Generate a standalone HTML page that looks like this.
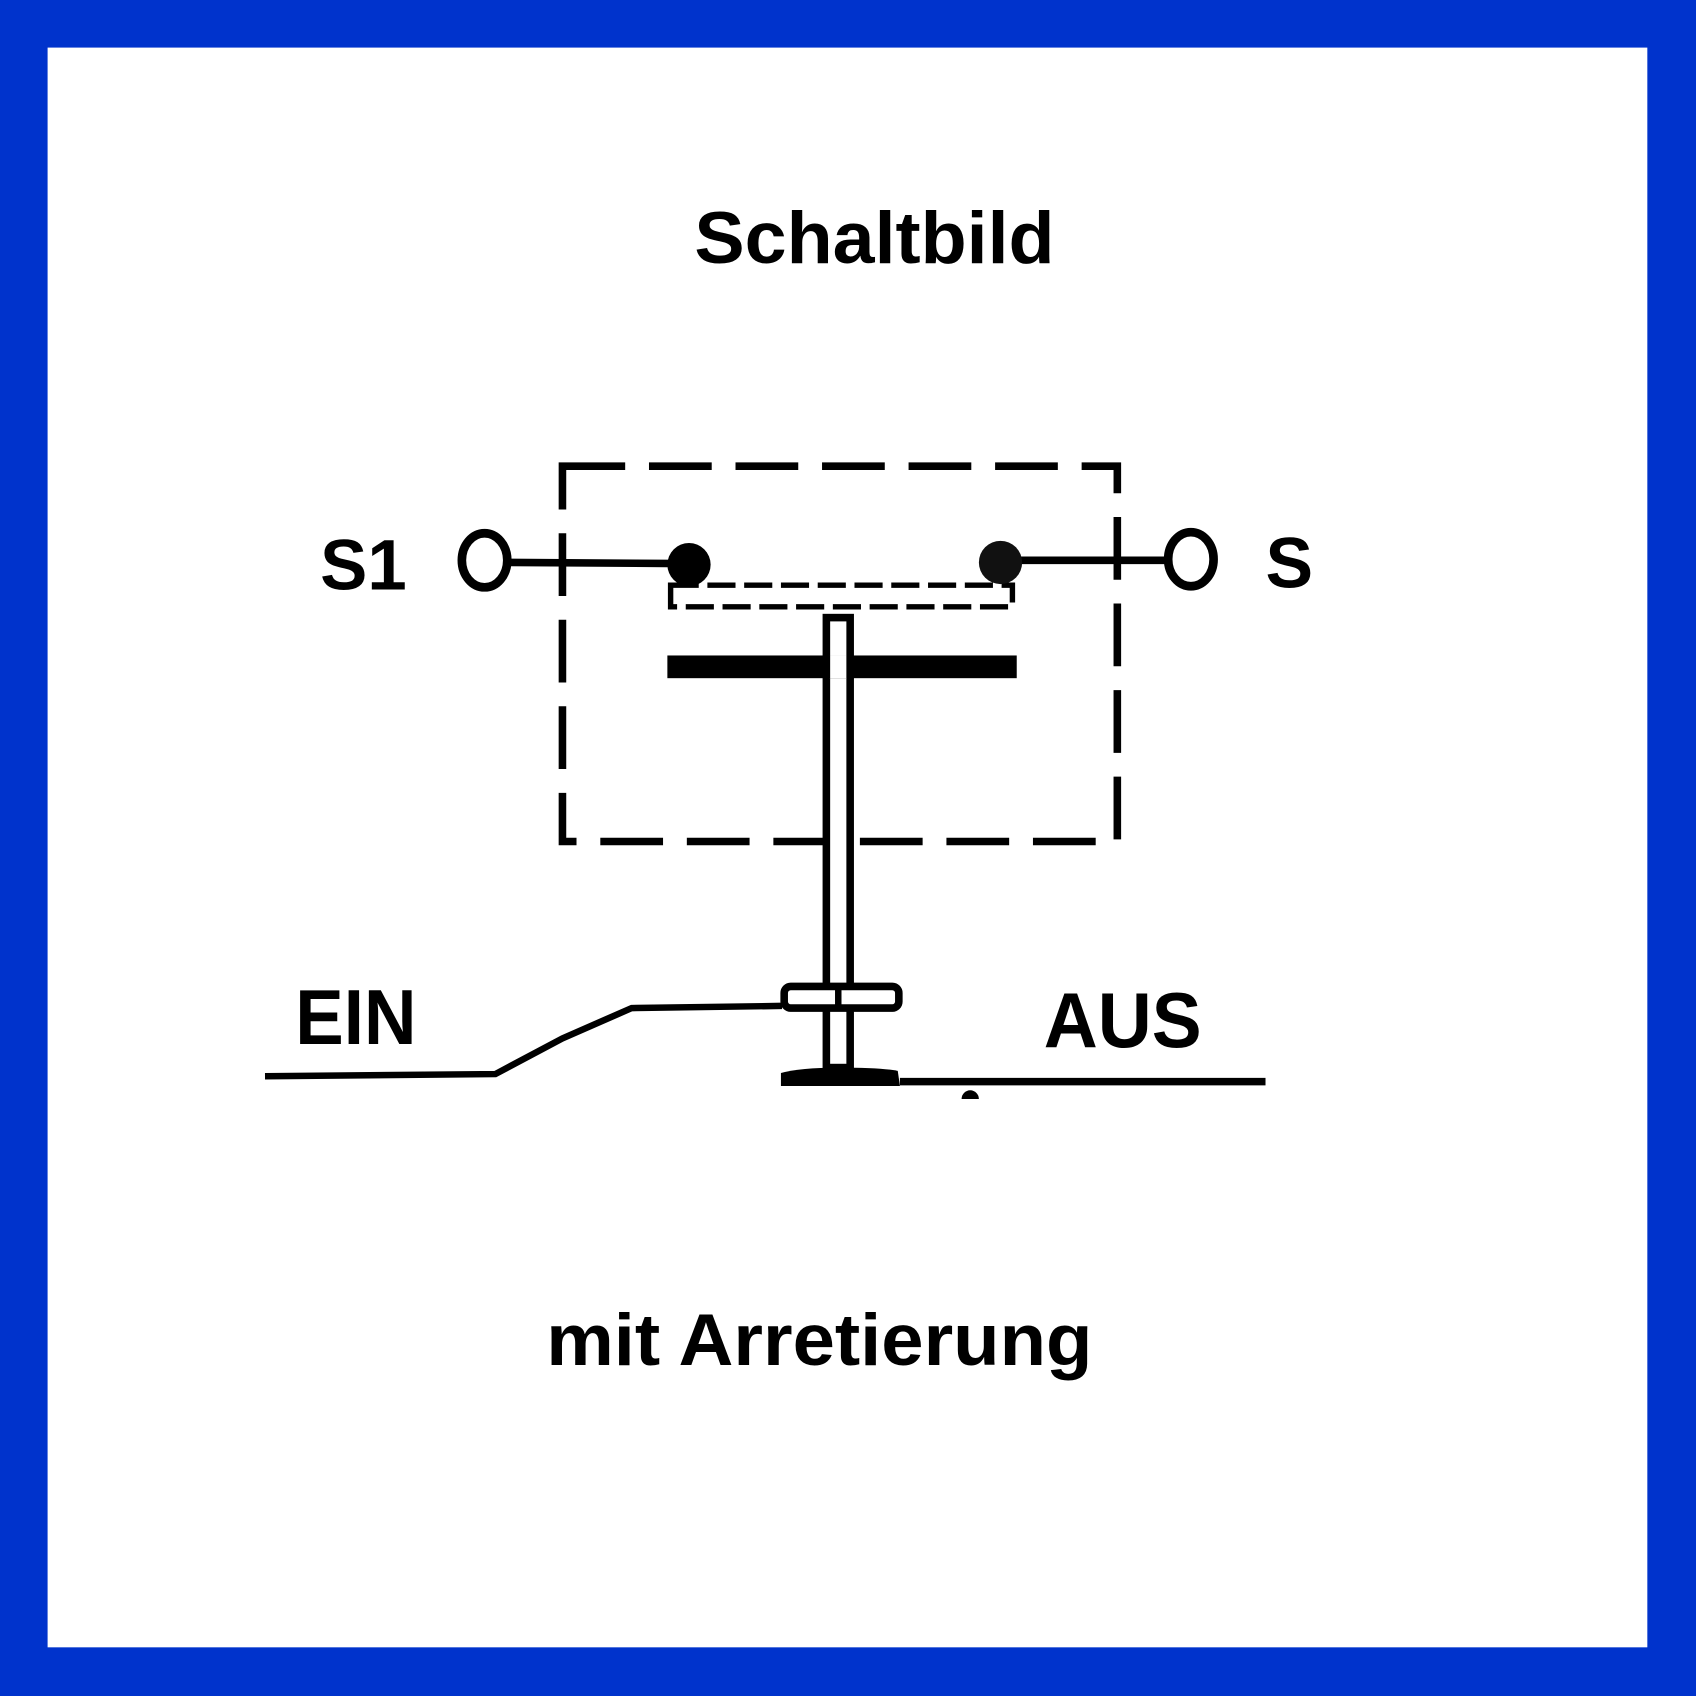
<!DOCTYPE html>
<html><head><style>html,body{margin:0;padding:0;background:#fff}svg{display:block}</style></head>
<body>
<svg width="1696" height="1696" viewBox="0 0 1568 1568" xmlns="http://www.w3.org/2000/svg">
<rect x="0" y="0" width="1568" height="1568" fill="#0033cc"/>
<rect x="44" y="44" width="1479" height="1479" fill="#fff"/>
<g font-family="Liberation Sans, sans-serif" font-weight="bold" fill="#000">
<text x="642" y="243" font-size="68" textLength="333" lengthAdjust="spacingAndGlyphs">Schaltbild</text>
<text x="296" y="545" font-size="66" textLength="80" lengthAdjust="spacingAndGlyphs">S1</text>
<text x="1170" y="543" font-size="66">S</text>
<text x="273" y="965" font-size="72" textLength="112" lengthAdjust="spacingAndGlyphs">EIN</text>
<text x="965" y="968" font-size="72" textLength="146" lengthAdjust="spacingAndGlyphs">AUS</text>
<text x="505" y="1262" font-size="68" textLength="505" lengthAdjust="spacingAndGlyphs">mit Arretierung</text>
</g>
<g stroke="#000" fill="none">
<rect x="520" y="431" width="513" height="347" stroke-width="7" stroke-dasharray="58,22"/>
<ellipse cx="448" cy="518" rx="21" ry="25" stroke-width="8"/>
<ellipse cx="1101" cy="517" rx="21" ry="25" stroke-width="8"/>
<line x1="472" y1="520" x2="630" y2="521" stroke-width="7"/>
<line x1="940" y1="518" x2="1078" y2="518" stroke-width="7"/>
<rect x="620" y="541" width="316" height="20" stroke-width="5" stroke-dasharray="26,8"/>
<rect x="764" y="571" width="22" height="416" stroke-width="7" fill="#fff"/>
<polyline points="245,995 458,993 520,960 584,932 723,930" stroke-width="6"/>
<line x1="832" y1="1000" x2="1170" y2="1000" stroke-width="7"/>
</g>
<rect x="617" y="606" width="323" height="21" fill="#000"/>
<rect x="767" y="606" width="16" height="21" fill="#fff"/>
<line x1="764" y1="606" x2="764" y2="627" stroke="#000" stroke-width="7"/>
<line x1="786" y1="606" x2="786" y2="627" stroke="#000" stroke-width="7"/>
<rect x="725" y="912" width="106" height="20" rx="6" fill="#fff" stroke="#000" stroke-width="7"/>
<line x1="775" y1="909" x2="775" y2="935" stroke="#000" stroke-width="6"/>
<path d="M722 1004 L722 992 Q740 987 775 987 Q815 987 830 990 L832 1004 Z" fill="#000"/>
<circle cx="637" cy="522" r="20" fill="#000"/>
<circle cx="925" cy="520" r="20" fill="#111"/>
<path d="M889 1016 a8 8 0 0 1 16 0 Z" fill="#000"/>
</svg>
</body></html>
